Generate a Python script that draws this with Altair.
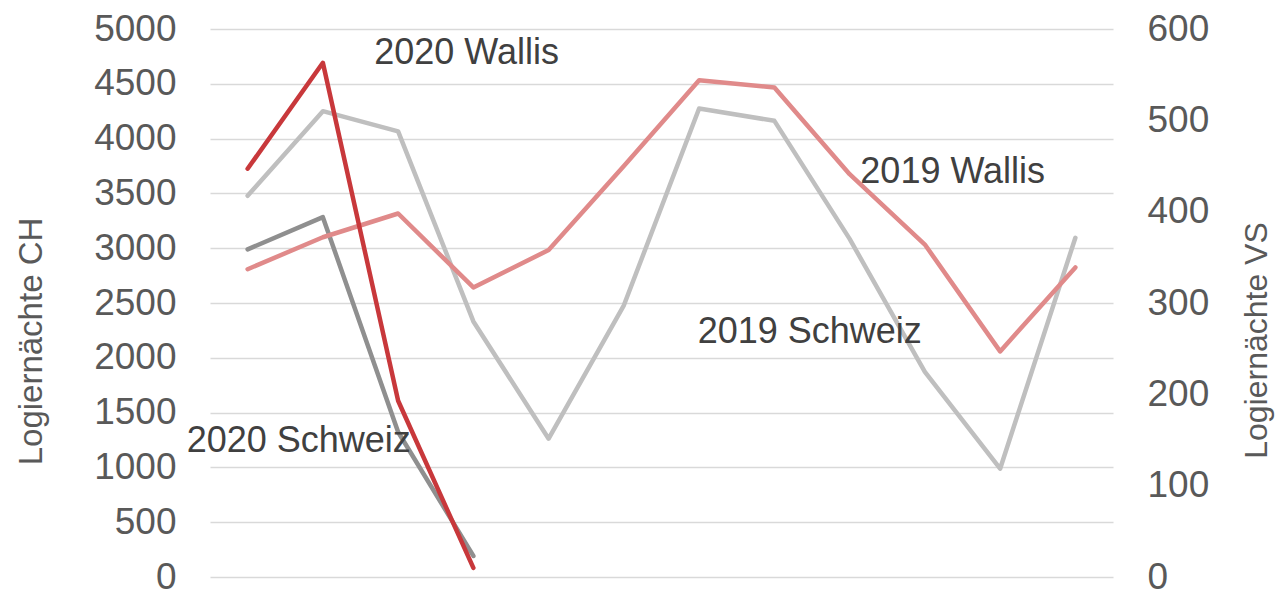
import altair as alt
import pandas as pd

months = list(range(1, 13))

ch_2019 = [3478, 4250, 4066, 2332, 1262, 2479, 4275, 4162, 3085, 1871, 988, 3095]
ch_2020 = [2989, 3283, 1323, 192]
vs_2019 = [337, 372, 398, 317, 358, 450, 544, 536, 441, 364, 247, 339]
vs_2020 = [447, 563, 193, 10]

label_texts = ["2020 Wallis", "2019 Wallis", "2019 Schweiz", "2020 Schweiz"]
label_months = [3.91, 10.37, 8.47, 1.68]
label_values = [4783, 3697, 2237, 1238]

series_names = ["2019 Schweiz", "2020 Schweiz", "2019 Wallis", "2020 Wallis"]
series_colors = ["#bfbfbf", "#8f8f8f", "#e08a8a", "#c8383b"]

rows = []
for m, v in zip(months, ch_2019):
    rows.append({"month": m, "value": v, "series": "2019 Schweiz", "order": 0})
for m, v in zip(months, ch_2020):
    rows.append({"month": m, "value": v, "series": "2020 Schweiz", "order": 1})
ch_df = pd.DataFrame(rows)

rows = []
for m, v in zip(months, vs_2019):
    rows.append({"month": m, "value": v, "series": "2019 Wallis", "order": 2})
for m, v in zip(months, vs_2020):
    rows.append({"month": m, "value": v, "series": "2020 Wallis", "order": 3})
vs_df = pd.DataFrame(rows)

lab_df = pd.DataFrame({"text": label_texts, "month": label_months, "value": label_values})

FONT = "Liberation Sans"
xenc = alt.X("month:Q", scale=alt.Scale(domain=[0.5, 12.5], nice=False, zero=False), axis=None)
color = alt.Color("series:N", scale=alt.Scale(domain=series_names, range=series_colors), legend=None)

left = alt.Chart(ch_df).mark_line(strokeWidth=4.5, strokeCap="round", strokeJoin="round").encode(
    x=xenc,
    y=alt.Y(
        "value:Q",
        scale=alt.Scale(domain=[0, 5000], nice=False),
        axis=alt.Axis(
            orient="left",
            values=list(range(0, 5001, 500)),
            format="d",
            title="Logiernächte CH",
            grid=True,
            gridColor="#d9d9d9",
            gridWidth=1.5,
            ticks=False,
            domain=False,
            labelFontSize=37,
            labelFont=FONT,
            labelColor="#595959",
            labelPadding=34,
            titleFont=FONT,
            titleFontSize=33,
            titleFontWeight="normal",
            titleColor="#595959",
            titleAngle=270,
            titleAlign="center",
            titleBaseline="alphabetic",
            titleX=-169,
            titleY=312,
        ),
    ),
    color=color,
    detail="series:N",
    order="order:Q",
)

right = alt.Chart(vs_df).mark_line(strokeWidth=4.5, strokeCap="round", strokeJoin="round").encode(
    x=xenc,
    y=alt.Y(
        "value:Q",
        scale=alt.Scale(domain=[0, 600], nice=False),
        axis=alt.Axis(
            orient="right",
            values=list(range(0, 601, 100)),
            format="d",
            title="Logiernächte VS",
            grid=False,
            ticks=False,
            domain=False,
            labelFontSize=37,
            labelFont=FONT,
            labelColor="#595959",
            labelPadding=34,
            titleFont=FONT,
            titleFontSize=32,
            titleFontWeight="normal",
            titleColor="#595959",
            titleAngle=270,
            titleAlign="center",
            titleBaseline="alphabetic",
            titleX=153,
            titleY=311,
        ),
    ),
    color=color,
    detail="series:N",
    order="order:Q",
)

labels = alt.Chart(lab_df).mark_text(
    font=FONT, fontSize=36, color="#404040", align="center", baseline="middle"
).encode(
    x=xenc,
    y=alt.Y("value:Q", scale=alt.Scale(domain=[0, 5000], nice=False), axis=None),
    text="text:N",
)

chart = (
    alt.layer(left, right, labels)
    .resolve_scale(y="independent", color="independent")
    .properties(
        width=903,
        height=548,
        autosize=alt.AutoSizeParams(type="none"),
        padding={"left": 202, "top": 21, "right": 162, "bottom": 12},
        view=alt.ViewBackground(stroke=None, strokeWidth=0),
    )
    .configure_view(strokeWidth=0, stroke=None)
    .configure_axis(domain=False)
    .configure(background="white")
)

chart.save("out.html", embed_options={"renderer": "svg", "actions": False})
